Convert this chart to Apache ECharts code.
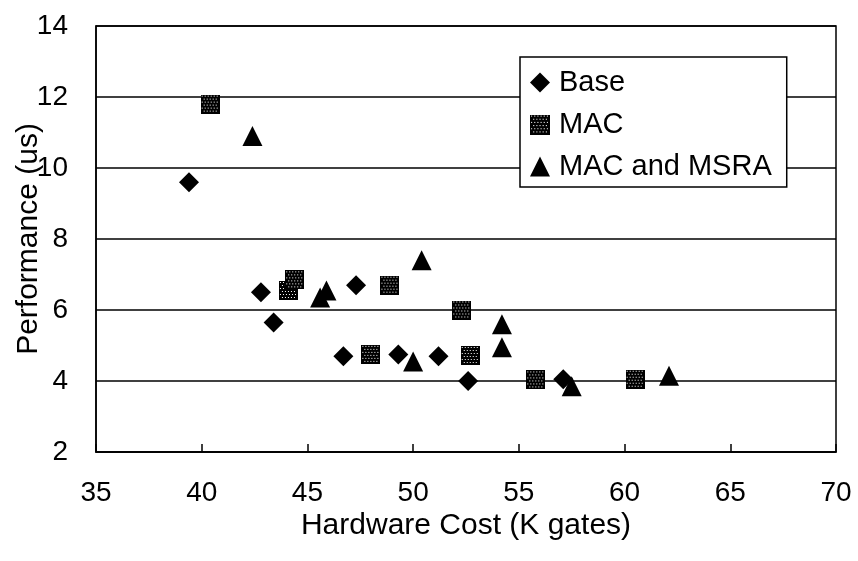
<!DOCTYPE html>
<html>
<head>
<meta charset="utf-8">
<script src="https://cdn.jsdelivr.net/npm/echarts@6/dist/echarts.min.js"></script>
<style>
html,body{margin:0;padding:0;background:#fff;}
#chart{width:858px;height:561px;}
</style>
</head>
<body>
<div id="chart"></div>
<script>
// ---- data ----
const seriesNames = ['Base', 'MAC', 'MAC and MSRA'];
const baseX = [39.4, 42.8, 43.4, 47.3, 46.7, 49.3, 51.2, 52.6, 57.1];
const baseY = [9.6, 6.5, 5.65, 6.7, 4.7, 4.75, 4.7, 4.0, 4.05];
const macX = [40.4, 44.1, 44.4, 48.0, 48.9, 52.3, 52.7, 55.8, 60.5];
const macY = [11.8, 6.55, 6.85, 4.75, 6.7, 6.0, 4.72, 4.03, 4.05];
const msraX = [42.4, 45.6, 45.9, 50.4, 50.0, 54.2, 54.2, 57.5, 62.1];
const msraY = [10.9, 6.35, 6.55, 7.4, 4.55, 5.6, 4.95, 3.85, 4.15];
const xTicks = {min: 35, max: 70, interval: 5};
const yTicks = {min: 2, max: 14, interval: 2};

function pairs(xs, ys){ return xs.map((x,i)=>[x, ys[i]]); }

// dotted square symbol image for MAC
function dottedSquare(size){
  const c = document.createElement('canvas');
  c.width = size; c.height = size;
  const g = c.getContext('2d');
  g.fillStyle = '#000'; g.fillRect(0,0,size,size);
  g.fillStyle = '#fff';
  for (let y = 1; y < size - 1; y += 3) {
    const off = ((y - 1) / 3) % 2 ? 2 : 0;
    for (let x = 1 + off; x < size - 1; x += 3) g.fillRect(x, y, 1, 1);
  }
  return 'image://' + c.toDataURL();
}
const macSymbol = dottedSquare(19);

const FONT = 'Liberation Sans';
const chart = echarts.init(document.getElementById('chart'), null, {renderer: 'canvas'});
chart.setOption({
  animation: false,
  backgroundColor: '#fff',
  textStyle: {fontFamily: FONT, color: '#000'},
  grid: {left: 96, right: 22, top: 26, bottom: 109, show: true, borderColor: '#000', borderWidth: 1.5,
         backgroundColor: 'transparent', containLabel: false, outerBoundsMode: 'none'},
  legend: {
    orient: 'vertical',
    left: 520, top: 57,
    data: seriesNames,
    itemWidth: 20, itemHeight: 20, itemGap: 13,
    padding: [11, 15, 6, 10],
    borderColor: '#000', borderWidth: 1.5,
    backgroundColor: '#fff',
    textStyle: {fontFamily: FONT, fontSize: 29, lineHeight: 21, color: '#000', padding: [0,0,0,4]}
  },
  xAxis: {
    type: 'value', min: xTicks.min, max: xTicks.max, interval: xTicks.interval,
    name: 'Hardware Cost (K gates)', nameLocation: 'middle', nameGap: 59, nameMoveOverlap: false,
    nameTextStyle: {fontFamily: FONT, fontSize: 30, color: '#000'},
    axisLine: {show: true, lineStyle: {color: '#000', width: 1.5}},
    axisTick: {show: true, inside: true, length: 8, lineStyle: {color: '#000', width: 1.5}},
    axisLabel: {fontFamily: FONT, fontSize: 28, color: '#000', margin: 27},
    splitLine: {show: false}
  },
  yAxis: {
    type: 'value', min: yTicks.min, max: yTicks.max, interval: yTicks.interval,
    name: 'Performance (us)', nameLocation: 'middle', nameGap: 52, nameMoveOverlap: false,
    nameTextStyle: {fontFamily: FONT, fontSize: 30, color: '#000'},
    axisLine: {show: true, lineStyle: {color: '#000', width: 1.5}},
    axisTick: {show: false},
    axisLabel: {fontFamily: FONT, fontSize: 28, color: '#000', margin: 28},
    splitLine: {show: true, lineStyle: {color: '#000', width: 1.5}}
  },
  series: [
    {name: seriesNames[0], type: 'scatter', symbol: 'diamond', symbolSize: [20, 20],
     itemStyle: {color: '#000', opacity: 1}, data: pairs(baseX, baseY)},
    {name: seriesNames[1], type: 'scatter', symbol: macSymbol, symbolSize: 19,
     itemStyle: {color: '#000', opacity: 1}, data: pairs(macX, macY)},
    {name: seriesNames[2], type: 'scatter', symbol: 'triangle', symbolSize: [20, 20],
     itemStyle: {color: '#000', opacity: 1}, data: pairs(msraX, msraY)}
  ]
});
</script>
</body>
</html>
